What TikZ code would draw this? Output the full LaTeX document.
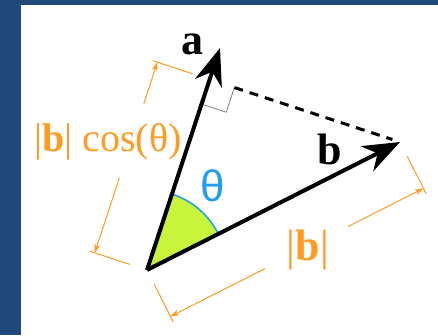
\documentclass[tikz,border=0pt]{standalone}
\usepackage{fontspec}
\setmainfont{Liberation Serif}
\newfontfamily\thetafont{Liberation Sans}
\usetikzlibrary{calc,arrows.meta}
\definecolor{navy}{RGB}{33,72,122}
\definecolor{dimorange}{RGB}{255,155,35}
\definecolor{thetablue}{RGB}{30,160,238}
\definecolor{anglegreen}{RGB}{200,245,60}
\tikzset{
  vec/.style={line width=4pt,-{Stealth[length=37pt,width=28pt,inset=12pt]}},
  dimline/.style={draw=dimorange,line width=1pt},
  dimarrow/.style={dimline,-{Stealth[length=9pt,width=6pt]}},
  veclabel/.style={font=\fontsize{44}{44}\selectfont\bfseries,inner sep=0pt},
  dimlabel/.style={text=dimorange,inner sep=0pt},
}
\begin{document}
\begin{tikzpicture}[x=1pt,y=1pt]
\fill[navy] (0,0) rectangle (438,335);
\fill[white] (21,0) rectangle (438,330);
\useasboundingbox (0,0) rectangle (438,335);
% main points
\coordinate (O) at (147,65);
\coordinate (A) at (220,287);
\coordinate (B) at (400,193);
\coordinate (F) at ($(O)!(B)!(A)$);
% angle sector (b at 26.8 deg, a at 71.8 deg)
\fill[anglegreen] (O) -- ++(26.8:80) arc[start angle=26.8,end angle=71.8,radius=80] -- cycle;
\draw[thetablue,line width=1.5pt] ($(O)+(26.8:80)$) arc[start angle=26.8,end angle=71.8,radius=80];
% right-angle marker
\coordinate (P1) at ($(F)!26pt!(O)$);
\coordinate (P3) at ($(F)!26pt!(B)$);
\coordinate (P2) at ($(P1)+(P3)-(F)$);
\draw[gray,line width=0.8pt] (P1) -- (P2) -- (P3);
% dashed projection
\draw[line width=3pt,dash pattern=on 9pt off 7pt] (P3) -- ($(B)!8pt!(F)$);
% vectors
\draw[vec] (O) -- (A);
\draw[vec] (O) -- (B);
% dimension along a
\coordinate (D1) at ($(O)!55pt!90:(A)$);
\coordinate (D2) at ($(F)!55pt!-90:(O)$);
\coordinate (G1) at ($(D1)!79pt!(D2)$);
\coordinate (G2) at ($(D1)!157pt!(D2)$);
\draw[dimline] ($(O)!18pt!90:(A)$) -- ($(O)!60pt!90:(A)$);
\draw[dimline] ($(F)!18pt!-90:(O)$) -- ($(F)!60pt!-90:(O)$);
\draw[dimarrow] (G1) -- (D1);
\draw[dimarrow] (G2) -- (D2);
% dimension along b
\coordinate (H1) at ($(O)!52pt!-90:(B)$);
\coordinate (H2) at ($(B)!52pt!90:(O)$);
\coordinate (K1) at ($(H1)!106pt!(H2)$);
\coordinate (K2) at ($(H1)!199pt!(H2)$);
\draw[dimline] ($(O)!16pt!-90:(B)$) -- ($(O)!58pt!-90:(B)$);
\draw[dimline] ($(B)!16pt!90:(O)$) -- ($(B)!58pt!90:(O)$);
\draw[dimarrow] (K1) -- (H1);
\draw[dimarrow] (K2) -- (H2);
% labels
\node[veclabel] (la) at (192,291) {a};
\node[veclabel] (lb) at (330,186) {b};
\node[text=thetablue,inner sep=0pt,font=\thetafont\fontsize{44}{44}\selectfont] (lt) at (213,149) {θ};
\node[dimlabel,font=\fontsize{40}{40}\selectfont] (lc) at (108,193) {|\textbf{b}| cos(θ)};
\node[dimlabel,font=\fontsize{44}{44}\selectfont] (lm) at (308,85) {|\textbf{b}|};
\end{tikzpicture}
\end{document}
